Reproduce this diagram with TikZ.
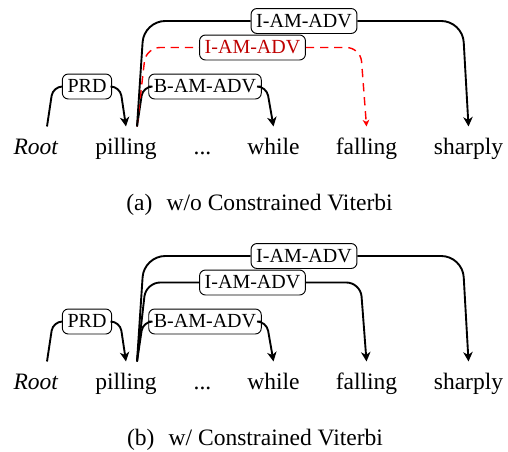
\documentclass[tikz,border=0pt]{standalone}
\usepackage{fontspec}
\setmainfont{Liberation Serif}
\usetikzlibrary{calc, arrows.meta}

\tikzset{
  word/.style={anchor=base, inner xsep=0pt, inner ysep=4.5pt, text height=7pt, text depth=2pt},
  lab/.style={draw, thin, rounded corners=2.5pt, fill=white, font=\fontsize{8.5}{10}\selectfont,
    inner xsep=2.2pt, inner ysep=1.75pt, text height=6.2pt, text depth=0.9pt},
  arc/.style={thick, rounded corners=#1, >={Stealth[length=4pt, width=4pt, inset=1.2pt]}},
  arc/.default=8pt,
  badarc/.style={red, line width=0.6pt, dash pattern=on 3.5pt off 2.5pt, rounded corners=#1,
    >={Stealth[length=2.8pt, width=2.8pt, inset=0.8pt]}},
  badarc/.default=6pt
}

\begin{document}
\begin{tikzpicture}[x=0.425pt, y=-0.425pt]
    \useasboundingbox (0,0) rectangle (508,451);
    % words of both panels
    \foreach \p/\dy in {a/0, b/235}
        \foreach \n/\x/\t in {root/36/\textit{Root}, pilling/126/pilling, dots/202.5/{...}, while/273.5/while, falling/366.5/falling, sharply/468.5/sharply}
            \node[word] (\p-\n) at (\x,154+\dy) {\t};

    % (a) w/o constrained viterbi
    \node[lab] (a-prd) at (87,86.5) {PRD};
    \node[lab] (a-badv) at (205,86.5) {B-AM-ADV};
    \node[lab, text=red!75!black] (a-iadv2) at (252.5,47.5) {I-AM-ADV};
    \node[lab] (a-iadv1) at (304,21) {I-AM-ADV};
    \draw[arc=4pt] ($(a-root.north)+(11,0)$) -- ($(a-root.north |- a-prd.west)+(17,0)$) -- (a-prd.west);
    \draw[arc=4pt, ->] (a-prd.east) -- ($(a-pilling.north |- a-prd.east)+(-6,0)$) -- (a-pilling.north);
    \draw[arc=4pt] ($(a-pilling.north)+(11,0)$) -- ($(a-pilling.north |- a-badv.west)+(17,0)$) -- (a-badv.west);
    \draw[arc=4pt, ->] (a-badv.east) -- ($(a-while.north |- a-badv.east)+(-7,0)$) -- (a-while.north);
    \draw[badarc] ($(a-pilling.north)+(11,0)$) -- ($(a-pilling.north |- a-iadv2.west)+(20,0)$) -- (a-iadv2.west);
    \draw[badarc, ->] (a-iadv2.east) -- ($(a-falling.north |- a-iadv2.east)+(-6,0)$) -- (a-falling.north);
    \draw[arc=9pt] ($(a-pilling.north)+(11,0)$) -- ($(a-pilling.north |- a-iadv1.west)+(18,0)$) -- (a-iadv1.west);
    \draw[arc=9pt, ->] (a-iadv1.east) -- ($(a-sharply.north |- a-iadv1.east)+(-6,0)$) -- (a-sharply.north);
    \node[anchor=base] (a-cap) at (259.5,210) {(a)\hspace{6pt}w/o Constrained Viterbi};

    % (b) w/ constrained viterbi
    \node[lab] (b-prd) at (87,321.5) {PRD};
    \node[lab] (b-badv) at (205,321.5) {B-AM-ADV};
    \node[lab] (b-iadv2) at (252.5,282.5) {I-AM-ADV};
    \node[lab] (b-iadv1) at (304,256) {I-AM-ADV};
    \draw[arc=4pt] ($(b-root.north)+(11,0)$) -- ($(b-root.north |- b-prd.west)+(17,0)$) -- (b-prd.west);
    \draw[arc=4pt, ->] (b-prd.east) -- ($(b-pilling.north |- b-prd.east)+(-6,0)$) -- (b-pilling.north);
    \draw[arc=4pt] ($(b-pilling.north)+(11,0)$) -- ($(b-pilling.north |- b-badv.west)+(17,0)$) -- (b-badv.west);
    \draw[arc=4pt, ->] (b-badv.east) -- ($(b-while.north |- b-badv.east)+(-7,0)$) -- (b-while.north);
    \draw[arc=6pt] ($(b-pilling.north)+(11,0)$) -- ($(b-pilling.north |- b-iadv2.west)+(20,0)$) -- (b-iadv2.west);
    \draw[arc=6pt, ->] (b-iadv2.east) -- ($(b-falling.north |- b-iadv2.east)+(-6,0)$) -- (b-falling.north);
    \draw[arc=9pt] ($(b-pilling.north)+(11,0)$) -- ($(b-pilling.north |- b-iadv1.west)+(18,0)$) -- (b-iadv1.west);
    \draw[arc=9pt, ->] (b-iadv1.east) -- ($(b-sharply.north |- b-iadv1.east)+(-6,0)$) -- (b-sharply.north);
    \node[anchor=base] (b-cap) at (255,445) {(b)\hspace{6pt}w/ Constrained Viterbi};
\end{tikzpicture}
\end{document}
